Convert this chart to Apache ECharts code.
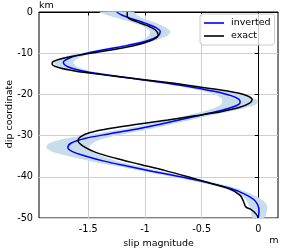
<!DOCTYPE html>
<html><head><meta charset="utf-8">
<script src="https://cdn.jsdelivr.net/npm/echarts@6/dist/echarts.min.js"></script>
<style>html,body{margin:0;padding:0;background:#fff}#c{width:283px;height:248px}</style>
</head><body><div id="c"></div>
<script>
const xTicks = [-1.5, -1, -0.5, 0];
const yTicks = [0, -10, -20, -30, -40, -50];

const depthInv = [0, -0.8, -1.7, -2.7, -3.7, -4.8, -5.9, -7.0, -8.1, -9.1, -10.1, -11.1, -12.2, -13.3, -14.3, -15.3, -16.3, -17.3, -18.3, -19.3, -20.3, -21.2, -21.9, -22.7, -23.6, -24.6, -25.6, -26.6, -27.6, -28.6, -29.6, -30.7, -31.8, -32.9, -33.9, -35.0, -36.2, -37.4, -38.7, -40.0, -41.4, -42.8, -44.2, -45.5, -46.8, -48.3, -50];
const slipInv = [-1.25, -1.20, -1.11, -1.00, -0.91, -0.865, -0.89, -0.98, -1.15, -1.35, -1.53, -1.66, -1.72, -1.68, -1.55, -1.33, -1.06, -0.80, -0.57, -0.38, -0.24, -0.17, -0.16, -0.19, -0.29, -0.44, -0.60, -0.76, -0.93, -1.11, -1.32, -1.53, -1.65, -1.68, -1.64, -1.52, -1.36, -1.16, -0.93, -0.69, -0.45, -0.25, -0.12, -0.04, -0.005, 0.006, 0];
const bandHalf = [0.15, 0.13, 0.11, 0.10, 0.09, 0.09, 0.08, 0.06, 0.05, 0.05, 0.06, 0.08, 0.09, 0.08, 0.07, 0.06, 0.06, 0.06, 0.07, 0.09, 0.12, 0.15, 0.16, 0.15, 0.13, 0.11, 0.10, 0.10, 0.11, 0.12, 0.14, 0.17, 0.19, 0.19, 0.18, 0.15, 0.12, 0.10, 0.08, 0.07, 0.06, 0.06, 0.06, 0.07, 0.08, 0.07, 0.05];

const depthExact = [0, -1.0, -1.6, -2.4, -3.3, -4.3, -5.5, -6.6, -7.7, -8.8, -9.9, -11.0, -12.0, -12.6, -13.4, -14.3, -15.2, -16.2, -17.2, -18.2, -19.2, -20.2, -21.3, -22.2, -23.2, -24.2, -25.2, -26.2, -27.2, -28.2, -29.3, -30.3, -31.2, -32.5, -34.0, -35.5, -37.0, -38.5, -40.0, -41.5, -43.0, -44.5, -46.0, -47.3, -48.0, -49.0, -50];
const slipExact = [-1.156, -1.156, -1.14, -1.07, -0.98, -0.91, -0.883, -0.92, -1.03, -1.21, -1.45, -1.68, -1.81, -1.82, -1.77, -1.62, -1.38, -1.08, -0.78, -0.52, -0.27, -0.11, -0.055, -0.08, -0.17, -0.33, -0.56, -0.80, -1.05, -1.30, -1.49, -1.57, -1.59, -1.55, -1.44, -1.26, -1.04, -0.82, -0.62, -0.43, -0.25, -0.16, -0.13, -0.11, -0.06, -0.02, 0];

const F = 'DejaVu Sans';
const chart = echarts.init(document.getElementById('c'));
chart.setOption({
  animation: false,
  grid: {left: 39, right: 5, top: 12, bottom: 30, outerBoundsMode: 'none', containLabel: false,
         show: true, borderColor: '#000', borderWidth: 1, backgroundColor: 'transparent'},
  xAxis: {
    type: 'value', min: -1.935, max: 0.174,
    name: 'slip magnitude', nameLocation: 'middle', nameGap: 17,
    nameTextStyle: {fontFamily: F, fontSize: 9.5, color: '#000'},
    axisLine: {show: true, lineStyle: {color: '#000', width: 1}},
    axisTick: {show: true, customValues: xTicks, length: 3.5, lineStyle: {color: '#000'}},
    axisLabel: {customValues: xTicks, fontFamily: F, fontSize: 9.7, color: '#000', margin: 6, formatter: v => String(v)},
    splitLine: {show: true, lineStyle: {color: '#cfcfcf', width: 1}}
  },
  yAxis: {
    type: 'value', min: -50, max: 0, interval: 10,
    axisLine: {show: true, lineStyle: {color: '#000', width: 1}},
    axisTick: {show: true, length: 3.5, lineStyle: {color: '#000'}},
    axisLabel: {fontFamily: F, fontSize: 9.7, color: '#000', margin: 6},
    splitLine: {show: true, lineStyle: {color: '#cfcfcf', width: 1}}
  },
  legend: {
    orient: 'vertical', left: 200, top: 14,
    padding: [4, 4, 4, 4], itemGap: 3, itemWidth: 20, itemHeight: 1.6, icon: 'rect',
    backgroundColor: 'rgba(255,255,255,0.8)', borderColor: '#cccccc', borderWidth: 1, borderRadius: 3,
    textStyle: {fontFamily: F, fontSize: 9.5, color: '#000', padding: [0, 0, 0, 2]},
    data: ['inverted', 'exact']
  },
  graphic: [
    {type: 'text', x: 39, y: 6, style: {text: 'km', font: '9.5px "DejaVu Sans"', fill: '#000', align: 'left', verticalAlign: 'middle'}},
    {type: 'text', x: 274, y: 241, style: {text: 'm', font: '9.5px "DejaVu Sans"', fill: '#000', align: 'center', verticalAlign: 'middle'}},
    {type: 'text', x: 10, y: 114, rotation: Math.PI / 2, style: {text: 'dip coordinate', font: '9.5px "DejaVu Sans"', fill: '#000', align: 'center', verticalAlign: 'middle'}}
  ],
  series: [
    {
      type: 'custom', name: 'band', silent: true, z: 1,
      data: depthInv.map((d, i) => [slipInv[i], d]),
      renderItem: function (params, api) {
        if (params.dataIndex !== 0) return null;
        const left = [], right = [];
        for (let i = 0; i < depthInv.length; i++) {
          left.push(api.coord([slipInv[i] - bandHalf[i], depthInv[i]]));
          right.push(api.coord([slipInv[i] + bandHalf[i], depthInv[i]]));
        }
        const pts = left.concat(right.reverse());
        return {type: 'polygon', shape: {points: pts, smooth: 0.3}, style: {fill: '#c7ddec'}};
      }
    },
    {
      type: 'line', name: 'inverted', z: 3, symbol: 'none', smooth: 0.35,
      data: depthInv.map((d, i) => [slipInv[i], d]),
      lineStyle: {color: '#0000ff', width: 1.5}, itemStyle: {color: '#0000ff'}
    },
    {
      type: 'line', name: 'exact', z: 4, symbol: 'none', smooth: 0.35,
      data: depthExact.map((d, i) => [slipExact[i], d]),
      lineStyle: {color: '#000000', width: 1.5}, itemStyle: {color: '#000000'}
    }
  ]
});
</script>
</body></html>
